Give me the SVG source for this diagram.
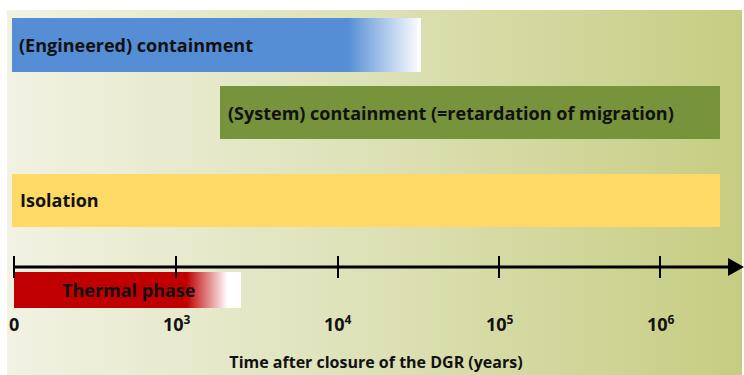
<svg xmlns="http://www.w3.org/2000/svg" width="744" height="375" viewBox="0 0 744 375">
  <defs>
    <linearGradient id="bg" x1="0" y1="0" x2="1" y2="0">
      <stop offset="0" stop-color="#f1f2e2"/>
      <stop offset="0.5" stop-color="#dde1b6"/>
      <stop offset="1" stop-color="#c6cd81"/>
    </linearGradient>
    <linearGradient id="blueFade" gradientUnits="userSpaceOnUse" x1="12" y1="0" x2="421" y2="0">
      <stop offset="0" stop-color="#558ed5"/>
      <stop offset="0.82" stop-color="#558ed5"/>
      <stop offset="1" stop-color="#ffffff"/>
    </linearGradient>
    <linearGradient id="redFade" gradientUnits="userSpaceOnUse" x1="14" y1="0" x2="241" y2="0">
      <stop offset="0" stop-color="#c00000"/>
      <stop offset="0.76" stop-color="#c00000"/>
      <stop offset="0.94" stop-color="#ffffff"/>
      <stop offset="1" stop-color="#ffffff"/>
    </linearGradient>
    <marker id="arrow" markerWidth="16" markerHeight="18" refX="0" refY="9" orient="auto" markerUnits="userSpaceOnUse">
      <path d="M0,0 L16,9 L0,18 Z" fill="#000"/>
    </marker>
    <style>
      .lbl { font-family: "Open Sans", "Liberation Sans", sans-serif; font-weight: bold; fill: #111; }
      .bar { font-size: 18px; }
      .tick { stroke: #000; stroke-width: 2; }
      .num { font-size: 18px; }
      .sup { font-size: 12px; }
    </style>
  </defs>

  <!-- panel background -->
  <rect x="7" y="10" width="735" height="365" fill="url(#bg)"/>

  <g id="engineered-containment">
    <rect x="12" y="18" width="409" height="54" fill="url(#blueFade)"/>
    <text class="lbl bar" x="19" y="52">(Engineered) containment</text>
  </g>

  <g id="system-containment">
    <rect x="220" y="86" width="500" height="53" fill="#77933c"/>
    <text class="lbl bar" x="228" y="120">(System) containment (=retardation of migration)</text>
  </g>

  <g id="isolation">
    <rect x="12" y="174" width="708" height="53" fill="#ffd966"/>
    <text class="lbl bar" x="20" y="207">Isolation</text>
  </g>

  <g id="thermal-phase">
    <rect x="14" y="272" width="227" height="36" fill="url(#redFade)"/>
    <text class="lbl bar" x="62" y="297">Thermal phase</text>
  </g>

  <!-- time axis -->
  <g id="axis">
    <line x1="14" y1="267" x2="728" y2="267" stroke="#000" stroke-width="3" marker-end="url(#arrow)"/>
    <line class="tick" x1="14" y1="256" x2="14" y2="278"/>
    <line class="tick" x1="176" y1="256" x2="176" y2="278"/>
    <line class="tick" x1="338" y1="256" x2="338" y2="278"/>
    <line class="tick" x1="499" y1="256" x2="499" y2="278"/>
    <line class="tick" x1="660" y1="256" x2="660" y2="278"/>
    <text class="lbl num" x="9" y="331">0</text>
    <text class="lbl num" x="163" y="331">10<tspan class="sup" dy="-7">3</tspan></text>
    <text class="lbl num" x="324" y="331">10<tspan class="sup" dy="-7">4</tspan></text>
    <text class="lbl num" x="486" y="331">10<tspan class="sup" dy="-7">5</tspan></text>
    <text class="lbl num" x="647" y="331">10<tspan class="sup" dy="-7">6</tspan></text>
    <text class="lbl" font-size="16" x="376" y="368" text-anchor="middle">Time after closure of the DGR (years)</text>
  </g>
</svg>
